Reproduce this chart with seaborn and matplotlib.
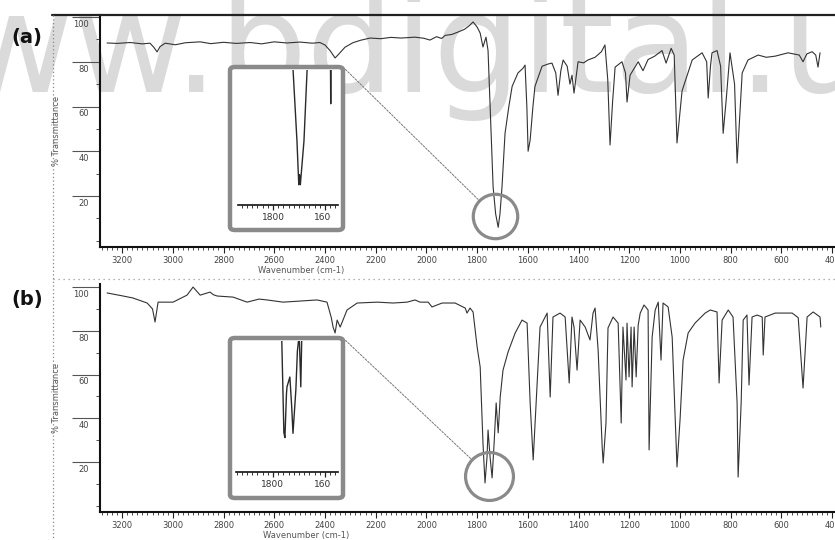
import matplotlib
matplotlib.use("Agg")
import matplotlib.pyplot as plt
import pandas as pd
import seaborn as sns
from matplotlib.patches import FancyBboxPatch, ConnectionPatch
from matplotlib.lines import Line2D
from matplotlib.ticker import MultipleLocator
from matplotlib.transforms import ScaledTranslation, Bbox, TransformedBbox

# ---------------- data ----------------
a_wn = [3259, 3220, 3168, 3120, 3090, 3075, 3062, 3050, 3030, 2990, 2950, 2892, 2850, 2800,
        2750, 2695, 2650, 2600, 2550, 2498, 2450, 2420, 2400, 2380, 2360, 2345, 2321, 2290,
        2260, 2222, 2180, 2140, 2100, 2045, 2010, 1986, 1960, 1940, 1926, 1900, 1875, 1850,
        1830, 1816, 1800, 1788, 1777, 1765, 1757, 1747, 1737, 1727, 1717, 1710, 1702, 1690,
        1675, 1662, 1639, 1620, 1611, 1604, 1599, 1591, 1580, 1572, 1544, 1520, 1505, 1490,
        1481, 1470, 1461, 1445, 1434, 1426, 1418, 1402, 1380, 1363, 1335, 1310, 1296, 1285,
        1276, 1266, 1256, 1229, 1215, 1209, 1197, 1165, 1146, 1126, 1100, 1071, 1055, 1035,
        1023, 1012, 992, 952, 913, 895, 889, 880, 874, 854, 840, 830, 822, 818, 803, 785,
        775, 765, 755, 732, 692, 660, 625, 590, 574, 530, 515, 500, 479, 465, 456, 448]
a_t = [88.4, 88.2, 88.6, 88.0, 88.3, 86.5, 84.4, 86.8, 88.3, 87.6, 88.5, 88.9, 88.1, 88.7,
       88.2, 88.6, 88.0, 88.9, 88.4, 88.8, 88.3, 88.6, 87.5, 85.0, 81.7, 83.5, 86.5, 88.5,
       89.6, 90.6, 90.3, 90.9, 90.6, 91.0, 90.5, 89.7, 91.2, 90.4, 91.8, 92.2, 93.3, 94.5,
       96.2, 97.8, 95.5, 92.8, 86.6, 91.0, 85.0, 55.0, 24.0, 12.0, 6.0, 12.0, 24.0, 48.0,
       60.0, 69.0, 75.0, 77.0, 78.5, 60.0, 40.0, 45.0, 60.0, 69.0, 78.0, 79.0, 79.4, 75.0,
       65.0, 76.0, 80.8, 78.0, 70.0, 74.0, 66.0, 80.0, 79.5, 80.8, 82.0, 84.5, 87.5, 72.0,
       42.8, 62.0, 77.6, 80.0, 75.0, 62.0, 74.0, 80.0, 76.0, 81.0, 82.5, 85.0, 79.4, 86.0,
       83.0, 43.7, 67.0, 80.8, 84.0, 80.0, 63.8, 78.0, 84.0, 85.0, 78.0, 48.0, 58.0, 63.0,
       84.0, 70.0, 34.7, 55.0, 75.0, 80.8, 83.0, 82.0, 82.5, 83.5, 84.0, 83.0, 80.0, 83.5,
       84.5, 83.0, 77.6, 84.0]

b_wn = [3259, 3200, 3157, 3101, 3080, 3070, 3058, 2999, 2944, 2920, 2892, 2853, 2840, 2825,
        2762, 2707, 2660, 2628, 2565, 2498, 2431, 2392, 2375, 2368, 2360, 2352, 2340, 2313,
        2273, 2194, 2131, 2076, 2045, 2025, 1993, 1978, 1938, 1887, 1847, 1840, 1828, 1816,
        1800, 1788, 1777, 1769, 1761, 1757, 1749, 1741, 1733, 1725, 1717, 1709, 1698, 1678,
        1650, 1623, 1603, 1591, 1579, 1564, 1552, 1524, 1512, 1501, 1473, 1453, 1437, 1426,
        1418, 1406, 1394, 1374, 1355, 1343, 1335, 1323, 1307, 1303, 1292, 1284, 1264, 1244,
        1232, 1225, 1213, 1209, 1201, 1193, 1189, 1181, 1173, 1165, 1157, 1142, 1126, 1122,
        1110, 1098, 1086, 1075, 1067, 1047, 1031, 1012, 1000, 988, 968, 941, 901, 881, 854,
        846, 834, 810, 791, 775, 771, 759, 751, 736, 728, 716, 696, 676, 672, 665, 625, 558,
        534, 515, 499, 475, 448, 445]
b_t = [97.3, 96.0, 95.0, 92.7, 90.0, 84.0, 93.1, 93.1, 96.3, 100.0, 96.3, 97.7, 96.5, 95.9,
       95.4, 93.1, 94.5, 94.1, 93.1, 93.6, 94.1, 93.1, 86.0, 81.7, 79.0, 84.9, 81.7, 89.5,
       92.7, 93.1, 92.7, 93.1, 94.1, 93.1, 93.1, 90.9, 92.7, 92.7, 90.4, 88.1, 90.4, 88.6,
       72.6, 63.4, 28.7, 10.4, 22.3, 34.6, 22.3, 12.7, 28.7, 47.0, 33.3, 49.7, 62.0, 70.3,
       79.0, 84.9, 83.5, 47.0, 20.9, 54.3, 81.7, 88.1, 49.7, 86.3, 88.1, 86.3, 56.1, 86.3,
       81.7, 62.0, 84.9, 81.7, 75.8, 88.1, 90.4, 71.2, 26.9, 19.5, 37.8, 81.3, 86.3, 83.5,
       37.8, 81.7, 57.5, 83.5, 58.9, 81.7, 54.3, 81.7, 58.9, 82.6, 88.1, 91.8, 89.5, 25.5,
       77.1, 89.5, 93.1, 66.6, 92.7, 90.9, 77.1, 17.7, 39.2, 66.6, 79.0, 83.5, 88.1, 89.5, 88.6,
       56.1, 84.9, 89.5, 86.3, 47.0, 13.1, 47.0, 84.9, 87.2, 55.2, 86.3, 87.2, 86.3, 68.9, 86.3,
       88.1, 88.1, 86.0, 53.8, 86.3, 88.6, 86.3, 81.7]

inset_a_wn = [1760, 1735, 1723, 1708, 1701, 1698, 1695, 1681, 1669, 1655, 1600, 1583, 1578, 1574, 1560]
inset_a_t = [90, 70, 40, 19, 6, 9, 6, 19, 40, 70, 90, 90, 30, 90, 90]
inset_b_wn = [1790, 1766, 1758, 1754, 1748, 1746, 1735, 1728, 1723, 1712, 1706, 1699, 1693, 1689, 1680]
inset_b_t = [90, 40, 12, 10.5, 24, 26, 29, 20, 11.8, 25, 37, 42, 26, 42, 90]

x_ticks = [3200, 3000, 2800, 2600, 2400, 2200, 2000, 1800, 1600, 1400, 1200, 1000, 800, 600, 400]
x_ticklabels = [str(v) for v in x_ticks]
y_ticks = [20, 40, 60, 80, 100]
y_ticklabels = [str(v) for v in y_ticks]
inset_ticks = [1800, 1600]
inset_ticklabels = ["1800", "1600"]
zoom_wn = [1729, 1753]
zoom_t = [11.0, 13.6]
panel_labels = ["(a)", "(b)"]
x_title = "Wavenumber (cm-1)"
y_title = "% Transmittance"
watermark = ["www.", "bdigital.ula.ve"]

# ---------------- figure ----------------
sns.set_theme(style="white")
plt.rcParams["font.family"] = ["DejaVu Sans"]

W, H = 835, 540
fig = plt.figure(figsize=(W / 100, H / 100), dpi=100)
fig.patch.set_facecolor("white")


def fx(px):
    return px / W


def fy(py):
    return 1.0 - py / H


def rect(x0, y0, x1, y1):
    return [fx(x0), fy(y1), fx(x1) - fx(x0), fy(y0) - fy(y1)]


# watermark
wm = dict(fontsize=100, family=["DejaVu Sans"], color="#dadada",
          va="baseline", zorder=-5)
fig.text(fx(218), fy(92), watermark[0], ha="right", **wm)
fig.text(fx(218), fy(92), watermark[1], ha="left", **wm)

# outer frame
fig.add_artist(Line2D([fx(52), 1.0], [fy(14.5), fy(14.5)], transform=fig.transFigure,
                      color="#222222", lw=1.6))
fig.add_artist(Line2D([fx(53), fx(53)], [fy(14.5), 0.0], transform=fig.transFigure,
                      color="#888888", lw=0.9, ls=(0, (1, 2))))
fig.add_artist(Line2D([fx(53), 1.0], [fy(279), fy(279)], transform=fig.transFigure,
                      color="#999999", lw=0.9, ls=(0, (1, 3))))

panels = [
    dict(rect=rect(100, 15, 835, 247), wn=a_wn, t=a_t, ylim=(-2.8, 100.9), label_xy=(27, 37),
         xlab=(0.2735, -0.082), box=(230, 67, 343, 230), iax=(238, 70, 338, 205),
         ixlim=(1935, 1550), iwn=inset_a_wn, it=inset_a_t, zms=32),
    dict(rect=rect(100, 284, 835, 512), wn=b_wn, t=b_t, ylim=(-2.9, 101.4), label_xy=(27, 299),
         xlab=(0.280, -0.083), box=(230, 338, 343, 498), iax=(236, 341, 338, 472),
         ixlim=(1942, 1550), iwn=inset_b_wn, it=inset_b_t, zms=34.5),
]

inset_axes = []
for i, p in enumerate(panels):
    ax = fig.add_axes(p["rect"], zorder=1)
    ax.set_facecolor("none")
    df = pd.DataFrame({"wn": p["wn"], "T": p["t"]})
    sns.lineplot(data=df, x="wn", y="T", ax=ax, color="#333333", linewidth=0.8,
                 sort=False, estimator=None)
    ax.set_xlim(3287, 389)
    ax.set_ylim(*p["ylim"])
    for s in ("top", "right"):
        ax.spines[s].set_visible(False)
    for s in ("left", "bottom"):
        ax.spines[s].set_color("#111111")
        ax.spines[s].set_linewidth(1.5)

    ax.set_xticks(x_ticks)
    ax.set_xticklabels(x_ticklabels)
    ax.xaxis.set_minor_locator(MultipleLocator(20))
    ax.tick_params(axis="x", which="major", direction="out", length=4, width=0.8, pad=2.5,
                   labelsize=6, labelcolor="#444444", color="#222222", bottom=True)
    ax.tick_params(axis="x", which="minor", direction="out", length=2, width=0.6,
                   color="#333333", bottom=True)
    ax.set_yticks(y_ticks)
    ax.set_yticklabels(y_ticklabels)
    ax.yaxis.set_minor_locator(MultipleLocator(10))
    ax.tick_params(axis="y", which="major", direction="out", length=20, width=0.8, pad=-12,
                   labelsize=6, labelcolor="#444444", color="#555555", left=True)
    ax.tick_params(axis="y", which="minor", direction="out", length=3, width=0.6,
                   color="#333333", left=True)
    off = ScaledTranslation(0, -4.5 / 72, fig.dpi_scale_trans)
    for lab in ax.get_yticklabels():
        lab.set_transform(lab.get_transform() + off)

    ax.set_xlabel(x_title, fontsize=6, color="#555555")
    ax.xaxis.set_label_coords(*p["xlab"])
    ax.set_ylabel(y_title, fontsize=6, color="#555555")
    ax.yaxis.set_label_coords(-0.053, 0.5)

    fig.text(fx(p["label_xy"][0]), fy(p["label_xy"][1]), panel_labels[i], ha="center",
             va="center", fontsize=14, weight="heavy", color="#111111")

    # zoom circle
    ax.plot([zoom_wn[i]], [zoom_t[i]], marker="o", ms=p["zms"], mfc="none", mec="#8a8a8a",
            mew=2.3, ls="none", clip_on=False, zorder=4)

    # inset box
    x0, y0, x1, y1 = p["box"]
    box = FancyBboxPatch((fx(x0), fy(y1)), fx(x1) - fx(x0), fy(y0) - fy(y1),
                         boxstyle="round,pad=0,rounding_size=0.006", transform=fig.transFigure,
                         fc="white", ec="#8a8a8a", lw=3.2, zorder=5)
    fig.add_artist(box)

    con = ConnectionPatch(xyA=(fx(x1), fy(y0)), coordsA=fig.transFigure,
                          xyB=(zoom_wn[i], zoom_t[i]), coordsB=ax.transData,
                          arrowstyle="-", shrinkA=0, shrinkB=p["zms"] / 2, color="#777777",
                          lw=0.7, ls=(0, (2, 1.5)), zorder=4)
    fig.add_artist(con)

    axi = fig.add_axes(rect(*p["iax"]), zorder=6)
    axi.set_facecolor("none")
    sns.lineplot(x=p["iwn"], y=p["it"], ax=axi, color="#2a2a2a", linewidth=1.0,
                 sort=False, estimator=None)
    axi.set_xlim(*p["ixlim"])
    axi.set_ylim(0, 40)
    for s in ("top", "right", "left"):
        axi.spines[s].set_visible(False)
    axi.spines["bottom"].set_color("#111111")
    axi.spines["bottom"].set_linewidth(1.2)
    axi.set_yticks([])
    axi.set_xticks(inset_ticks)
    axi.set_xticklabels(inset_ticklabels)
    axi.xaxis.set_minor_locator(MultipleLocator(20))
    axi.tick_params(axis="x", which="major", direction="out", length=3.5, width=0.9, pad=2,
                    labelsize=6.5, labelcolor="#333333", color="#222222", bottom=True)
    axi.tick_params(axis="x", which="minor", direction="out", length=2, width=0.7,
                    color="#333333", bottom=True)
    axi.set_xlabel("")
    axi.set_ylabel("")
    inset_axes.append(axi)

fig.canvas.draw()
for axi in inset_axes:
    clip = TransformedBbox(Bbox([[0.0, -1.0], [0.93, 1.0]]), axi.transAxes)
    for lab in axi.get_xticklabels():
        lab.set_clip_on(True)
        lab.set_clip_box(clip)

fig.savefig("out.png", dpi=100)
